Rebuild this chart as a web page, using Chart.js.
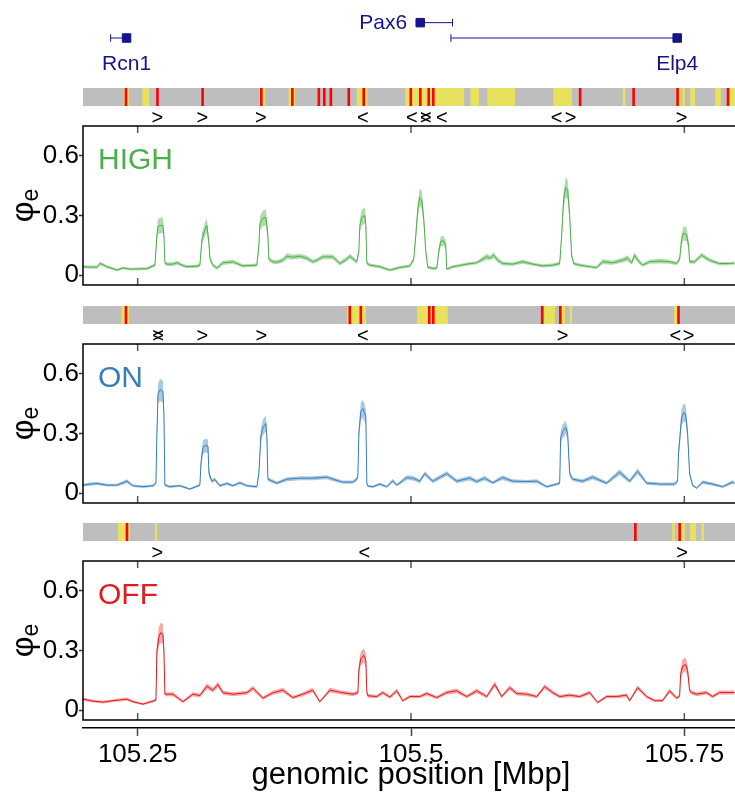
<!DOCTYPE html>
<html>
<head>
<meta charset="utf-8">
<script src="https://cdn.jsdelivr.net/npm/chart.js@4/dist/chart.umd.min.js"></script>
<style>
body { margin: 0; background: #fff; width: 735px; height: 802px; overflow: hidden; position: relative; }
canvas { position: absolute; left: 0; }
</style>
</head>
<body>
<canvas id="genes" width="745" height="84" style="top:0"></canvas>
<canvas id="strip1" width="745" height="50" style="top:80px"></canvas>
<canvas id="high" width="745" height="176" style="top:116px"></canvas>
<canvas id="strip2" width="745" height="50" style="top:298px"></canvas>
<canvas id="on" width="745" height="176" style="top:334px"></canvas>
<canvas id="strip3" width="745" height="50" style="top:515px"></canvas>
<canvas id="off" width="745" height="250" style="top:552px"></canvas>
<script>
// axis ranges and ticks (genomic position in Mbp)
const xMin = 105.2, xMax = 105.8;
const xTicks = [105.25, 105.5, 105.75];
const yTicks = [0, 0.3, 0.6];

// gene annotation
const geneNames = ['Rcn1', 'Pax6', 'Elp4'];
const geneBox = [105.2399, 105.5089, 105.7443];
const geneTail = [105.2253, 105.5385, 105.5370];
const geneRow = [0, 1, 0];

// annotation strips: yellow regions [start, end], red sites, motif arrows
const strip1Yellow = [[105.2375, 105.2416], [105.2546, 105.2603], [105.3618, 105.3663], [105.3883, 105.3938], [105.4507, 105.4598], [105.4952, 105.5482], [105.5546, 105.5619], [105.5702, 105.5948], [105.6305, 105.6469], [105.6940, 105.6958], [105.7427, 105.7463], [105.7484, 105.7502], [105.7557, 105.7594], [105.7785, 105.7831], [105.7913, 105.8000]];
const strip1Red = [105.2393, 105.2681, 105.3094, 105.3631, 105.3915, 105.4157, 105.4207, 105.4267, 105.4431, 105.4568, 105.4998, 105.5085, 105.5162, 105.5204, 105.6547, 105.7036, 105.7438, 105.7900];
const strip1ArrowPos = [105.2681, 105.3092, 105.3627, 105.4559, 105.5007, 105.5135, 105.5281, 105.6332, 105.6460, 105.7475];
const strip1ArrowDir = ['>', '>', '>', '<', '<', '><', '<', '<', '>', '>'];

const strip2Yellow = [[105.2354, 105.2420], [105.4419, 105.4584], [105.5059, 105.5333], [105.6214, 105.6314], [105.6369, 105.6405], [105.6456, 105.6469], [105.7411, 105.7457]];
const strip2Red = [105.2393, 105.4440, 105.4541, 105.5167, 105.5204, 105.6200, 105.6366, 105.7447];
const strip2ArrowPos = [105.2686, 105.3092, 105.3632, 105.4559, 105.6387, 105.7417, 105.7539];
const strip2ArrowDir = ['><', '>', '>', '<', '>', '<', '>'];

const strip3Yellow = [[105.2324, 105.2424], [105.2661, 105.2676], [105.7393, 105.7411], [105.7441, 105.7502], [105.7556, 105.7603], [105.7658, 105.7676]];
const strip3Red = [105.2402, 105.7052, 105.7457];
const strip3ArrowPos = [105.2680, 105.4573, 105.7480];
const strip3ArrowDir = ['>', '<', '>'];

// HIGH profile
const highPos = [105.2000, 105.2064, 105.2128, 105.2155, 105.2192, 105.2219, 105.2274, 105.2311, 105.2366, 105.2430,
  105.2521, 105.2585, 105.2640, 105.2658, 105.2676, 105.2686, 105.2713, 105.2731, 105.2740, 105.2749,
  105.2768, 105.2823, 105.2859, 105.2914, 105.2951, 105.3042, 105.3069, 105.3088, 105.3115, 105.3133,
  105.3152, 105.3161, 105.3188, 105.3225, 105.3280, 105.3344, 105.3371, 105.3462, 105.3526, 105.3590,
  105.3609, 105.3618, 105.3645, 105.3673, 105.3691, 105.3700, 105.3737, 105.3773, 105.3828, 105.3865,
  105.3919, 105.3983, 105.4047, 105.4102, 105.4139, 105.4194, 105.4285, 105.4349, 105.4413, 105.4440,
  105.4504, 105.4523, 105.4532, 105.4550, 105.4578, 105.4587, 105.4596, 105.4623, 105.4715, 105.4806,
  105.4897, 105.4943, 105.4989, 105.5025, 105.5044, 105.5062, 105.5080, 105.5098, 105.5117, 105.5135,
  105.5153, 105.5199, 105.5236, 105.5254, 105.5272, 105.5300, 105.5318, 105.5327, 105.5382, 105.5446,
  105.5510, 105.5601, 105.5693, 105.5720, 105.5757, 105.5793, 105.5839, 105.5930, 105.6022, 105.6113,
  105.6204, 105.6296, 105.6360, 105.6378, 105.6396, 105.6415, 105.6433, 105.6451, 105.6469, 105.6488,
  105.6543, 105.6634, 105.6698, 105.6753, 105.6844, 105.6936, 105.6981, 105.7018, 105.7045, 105.7082,
  105.7118, 105.7182, 105.7274, 105.7365, 105.7429, 105.7457, 105.7475, 105.7493, 105.7521, 105.7539,
  105.7548, 105.7594, 105.7658, 105.7731, 105.7822, 105.7914, 105.7959];
const highVal = [0.042, 0.040, 0.040, 0.058, 0.050, 0.042, 0.032, 0.025, 0.036, 0.030,
  0.031, 0.032, 0.046, 0.050, 0.200, 0.245, 0.250, 0.250, 0.200, 0.060,
  0.055, 0.055, 0.062, 0.048, 0.042, 0.045, 0.050, 0.180, 0.230, 0.250,
  0.160, 0.083, 0.050, 0.035, 0.062, 0.065, 0.067, 0.046, 0.048, 0.050,
  0.150, 0.260, 0.285, 0.290, 0.200, 0.080, 0.067, 0.065, 0.075, 0.095,
  0.090, 0.095, 0.085, 0.067, 0.075, 0.092, 0.092, 0.058, 0.080, 0.095,
  0.067, 0.120, 0.250, 0.290, 0.300, 0.250, 0.060, 0.050, 0.042, 0.025,
  0.038, 0.042, 0.046, 0.080, 0.200, 0.330, 0.390, 0.380, 0.280, 0.120,
  0.040, 0.033, 0.035, 0.120, 0.170, 0.172, 0.150, 0.030, 0.042, 0.048,
  0.055, 0.062, 0.092, 0.085, 0.100, 0.075, 0.058, 0.055, 0.067, 0.055,
  0.046, 0.050, 0.058, 0.200, 0.380, 0.440, 0.430, 0.300, 0.100, 0.058,
  0.050, 0.042, 0.038, 0.067, 0.062, 0.075, 0.085, 0.062, 0.100, 0.070,
  0.050, 0.067, 0.070, 0.067, 0.058, 0.080, 0.180, 0.210, 0.205, 0.150,
  0.067, 0.067, 0.100, 0.075, 0.058, 0.058, 0.060];
const highErr = [0.008, 0.008, 0.008, 0.010, 0.008, 0.008, 0.007, 0.007, 0.007, 0.007,
  0.007, 0.007, 0.008, 0.010, 0.030, 0.040, 0.040, 0.040, 0.030, 0.010,
  0.010, 0.010, 0.010, 0.008, 0.008, 0.008, 0.010, 0.030, 0.035, 0.035,
  0.030, 0.015, 0.010, 0.008, 0.010, 0.010, 0.010, 0.008, 0.008, 0.008,
  0.025, 0.035, 0.040, 0.040, 0.030, 0.012, 0.010, 0.010, 0.012, 0.015,
  0.012, 0.012, 0.012, 0.010, 0.010, 0.012, 0.012, 0.010, 0.012, 0.012,
  0.010, 0.020, 0.035, 0.040, 0.040, 0.035, 0.010, 0.008, 0.008, 0.007,
  0.007, 0.008, 0.008, 0.012, 0.030, 0.040, 0.045, 0.045, 0.035, 0.020,
  0.008, 0.007, 0.007, 0.020, 0.025, 0.025, 0.020, 0.007, 0.008, 0.008,
  0.008, 0.008, 0.015, 0.012, 0.015, 0.012, 0.010, 0.008, 0.010, 0.008,
  0.008, 0.008, 0.010, 0.030, 0.045, 0.050, 0.050, 0.035, 0.015, 0.008,
  0.008, 0.007, 0.007, 0.012, 0.010, 0.012, 0.015, 0.010, 0.015, 0.012,
  0.008, 0.010, 0.012, 0.010, 0.008, 0.012, 0.030, 0.035, 0.035, 0.025,
  0.010, 0.010, 0.012, 0.010, 0.008, 0.008, 0.008];

// ON profile
const onPos = [105.2000, 105.2064, 105.2128, 105.2219, 105.2311, 105.2402, 105.2457, 105.2548, 105.2640, 105.2667,
  105.2676, 105.2686, 105.2704, 105.2731, 105.2740, 105.2749, 105.2795, 105.2887, 105.2978, 105.3069,
  105.3079, 105.3097, 105.3124, 105.3143, 105.3152, 105.3179, 105.3206, 105.3252, 105.3316, 105.3371,
  105.3435, 105.3499, 105.3590, 105.3609, 105.3627, 105.3645, 105.3673, 105.3682, 105.3691, 105.3773,
  105.3865, 105.3983, 105.4102, 105.4230, 105.4285, 105.4376, 105.4468, 105.4504, 105.4514, 105.4523,
  105.4541, 105.4559, 105.4578, 105.4587, 105.4596, 105.4605, 105.4651, 105.4715, 105.4779, 105.4833,
  105.4870, 105.4961, 105.5016, 105.5080, 105.5126, 105.5199, 105.5327, 105.5418, 105.5537, 105.5601,
  105.5674, 105.5747, 105.5839, 105.5930, 105.6058, 105.6150, 105.6241, 105.6332, 105.6360, 105.6369,
  105.6387, 105.6415, 105.6433, 105.6451, 105.6479, 105.6570, 105.6661, 105.6789, 105.6908, 105.7000,
  105.7073, 105.7155, 105.7274, 105.7411, 105.7438, 105.7447, 105.7475, 105.7493, 105.7511, 105.7530,
  105.7548, 105.7575, 105.7612, 105.7667, 105.7758, 105.7850, 105.7941, 105.7959];
const onVal = [0.040, 0.045, 0.048, 0.040, 0.040, 0.060, 0.037, 0.032, 0.037, 0.050,
  0.300, 0.500, 0.520, 0.510, 0.400, 0.040, 0.032, 0.037, 0.020, 0.040,
  0.150, 0.230, 0.240, 0.235, 0.100, 0.060, 0.068, 0.037, 0.048, 0.037,
  0.052, 0.037, 0.032, 0.100, 0.290, 0.330, 0.350, 0.280, 0.070, 0.050,
  0.070, 0.075, 0.075, 0.080, 0.070, 0.055, 0.055, 0.070, 0.085, 0.300,
  0.410, 0.425, 0.400, 0.380, 0.050, 0.035, 0.032, 0.045, 0.032, 0.062,
  0.040, 0.078, 0.075, 0.060, 0.098, 0.060, 0.098, 0.060, 0.075, 0.058,
  0.075, 0.052, 0.078, 0.060, 0.058, 0.060, 0.032, 0.045, 0.050, 0.280,
  0.310, 0.330, 0.300, 0.098, 0.070, 0.060, 0.080, 0.050, 0.105, 0.060,
  0.110, 0.050, 0.045, 0.045, 0.060, 0.200, 0.380, 0.405, 0.400, 0.300,
  0.100, 0.040, 0.025, 0.055, 0.045, 0.032, 0.055, 0.050];
const onErr = [0.007, 0.008, 0.008, 0.007, 0.007, 0.010, 0.006, 0.006, 0.006, 0.008,
  0.040, 0.050, 0.055, 0.055, 0.045, 0.007, 0.006, 0.006, 0.005, 0.007,
  0.030, 0.035, 0.035, 0.035, 0.020, 0.010, 0.010, 0.006, 0.008, 0.006,
  0.008, 0.006, 0.006, 0.020, 0.035, 0.040, 0.040, 0.035, 0.010, 0.008,
  0.010, 0.010, 0.010, 0.010, 0.010, 0.008, 0.008, 0.010, 0.012, 0.035,
  0.045, 0.045, 0.045, 0.040, 0.008, 0.006, 0.006, 0.007, 0.006, 0.010,
  0.007, 0.012, 0.012, 0.010, 0.012, 0.010, 0.012, 0.010, 0.012, 0.010,
  0.012, 0.008, 0.012, 0.010, 0.008, 0.010, 0.006, 0.007, 0.008, 0.030,
  0.035, 0.035, 0.030, 0.015, 0.010, 0.010, 0.012, 0.008, 0.015, 0.010,
  0.015, 0.008, 0.008, 0.008, 0.010, 0.030, 0.045, 0.045, 0.045, 0.035,
  0.015, 0.007, 0.005, 0.010, 0.008, 0.006, 0.010, 0.008];

// OFF profile
const offPos = [105.2000, 105.2091, 105.2183, 105.2274, 105.2402, 105.2457, 105.2548, 105.2640, 105.2667, 105.2676,
  105.2695, 105.2713, 105.2731, 105.2740, 105.2749, 105.2823, 105.2914, 105.3005, 105.3069, 105.3133,
  105.3188, 105.3234, 105.3280, 105.3371, 105.3499, 105.3554, 105.3645, 105.3737, 105.3828, 105.3919,
  105.4011, 105.4102, 105.4166, 105.4258, 105.4349, 105.4468, 105.4514, 105.4523, 105.4541, 105.4569,
  105.4587, 105.4596, 105.4605, 105.4687, 105.4742, 105.4806, 105.4870, 105.4925, 105.4989, 105.5080,
  105.5144, 105.5236, 105.5327, 105.5418, 105.5510, 105.5601, 105.5693, 105.5766, 105.5830, 105.5903,
  105.5967, 105.6058, 105.6150, 105.6223, 105.6296, 105.6360, 105.6451, 105.6543, 105.6634, 105.6707,
  105.6789, 105.6881, 105.6972, 105.7000, 105.7073, 105.7155, 105.7228, 105.7301, 105.7365, 105.7429,
  105.7457, 105.7466, 105.7484, 105.7511, 105.7530, 105.7548, 105.7566, 105.7612, 105.7703, 105.7758,
  105.7822, 105.7959];
const offVal = [0.055, 0.045, 0.040, 0.047, 0.055, 0.042, 0.030, 0.045, 0.050, 0.300,
  0.370, 0.390, 0.380, 0.300, 0.080, 0.080, 0.042, 0.080, 0.073, 0.120,
  0.100, 0.128, 0.087, 0.080, 0.087, 0.110, 0.060, 0.087, 0.100, 0.063,
  0.080, 0.100, 0.042, 0.100, 0.090, 0.080, 0.087, 0.200, 0.260, 0.275,
  0.250, 0.090, 0.072, 0.068, 0.088, 0.065, 0.097, 0.047, 0.068, 0.068,
  0.083, 0.063, 0.088, 0.097, 0.068, 0.097, 0.068, 0.130, 0.068, 0.113,
  0.083, 0.080, 0.068, 0.118, 0.088, 0.068, 0.075, 0.068, 0.088, 0.038,
  0.068, 0.068, 0.075, 0.047, 0.113, 0.068, 0.047, 0.047, 0.097, 0.060,
  0.070, 0.180, 0.220, 0.230, 0.200, 0.100, 0.088, 0.080, 0.088, 0.068,
  0.088, 0.088];
const offErr = [0.008, 0.007, 0.007, 0.007, 0.008, 0.007, 0.006, 0.007, 0.008, 0.040,
  0.050, 0.050, 0.050, 0.040, 0.010, 0.010, 0.007, 0.010, 0.010, 0.015,
  0.012, 0.015, 0.010, 0.010, 0.010, 0.012, 0.008, 0.010, 0.012, 0.008,
  0.010, 0.012, 0.006, 0.012, 0.010, 0.010, 0.010, 0.030, 0.035, 0.035,
  0.035, 0.012, 0.010, 0.008, 0.010, 0.008, 0.012, 0.007, 0.008, 0.008,
  0.010, 0.008, 0.010, 0.012, 0.008, 0.012, 0.008, 0.015, 0.008, 0.012,
  0.010, 0.010, 0.008, 0.012, 0.010, 0.008, 0.010, 0.008, 0.010, 0.006,
  0.008, 0.008, 0.010, 0.007, 0.012, 0.008, 0.007, 0.007, 0.012, 0.008,
  0.008, 0.030, 0.035, 0.035, 0.030, 0.012, 0.010, 0.010, 0.010, 0.008,
  0.010, 0.010];

const sansFont = "'Liberation Sans', Arial, sans-serif";
const navy = '#14148c';

Chart.defaults.font.family = sansFont;
Chart.defaults.plugins.legend.display = false;
Chart.defaults.plugins.tooltip.enabled = false;

// gene names next to the gene models
const geneLabelPlugin = {
    id: 'geneLabels',
    afterDraw(chart) {
        const ctx = chart.ctx;
        ctx.save();
        ctx.font = '21px ' + sansFont;
        ctx.fillStyle = navy;
        ctx.textBaseline = 'middle';
        geneNames.forEach((name, i) => {
            const x = chart.scales.x.getPixelForValue(geneBox[i]);
            const y = chart.scales.y.getPixelForValue(geneRow[i]);
            if (geneRow[i] === 0) {
                ctx.textAlign = 'center';
                ctx.fillText(name, x, y + 26);
            } else {
                ctx.textAlign = 'right';
                ctx.fillText(name, x - 13, y + 1);
            }
        });
        ctx.restore();
    }
};

new Chart(document.getElementById('genes'), {
    type: 'line',
    data: {
        datasets: geneNames.map((name, i) => ({
            label: name,
            data: [{ x: geneBox[i], y: geneRow[i] }, { x: geneTail[i], y: geneRow[i] }],
            borderColor: navy,
            borderWidth: 1,
            pointStyle: ['rect', 'line'],
            pointRadius: [6, 3.8],
            pointRotation: [0, 90],
            pointBackgroundColor: navy,
            pointBorderColor: navy,
            pointBorderWidth: 1
        }))
    },
    options: {
        responsive: false,
        animation: false,
        layout: { padding: { left: 83, right: 6, top: 0, bottom: 0 } },
        scales: {
            x: { type: 'linear', min: xMin, max: xMax, display: false },
            y: { type: 'linear', min: -2.54, max: 2.02, display: false }
        }
    },
    plugins: [geneLabelPlugin]
});

// motif orientation arrows under each strip
const arrowPlugin = {
    id: 'arrows',
    afterDraw(chart, args, opts) {
        const ctx = chart.ctx;
        const y = chart.chartArea.bottom + 12;
        ctx.save();
        ctx.font = '20px ' + sansFont;
        ctx.fillStyle = '#000';
        ctx.textAlign = 'center';
        ctx.textBaseline = 'middle';
        opts.pos.forEach((p, i) => {
            const x = chart.scales.x.getPixelForValue(p);
            for (const ch of opts.dir[i]) ctx.fillText(ch, x, y);
        });
        ctx.restore();
    }
};

const redHalf = 0.0009;

function makeStrip(id, yellow, red, arrowPos, arrowDir) {
    new Chart(document.getElementById(id), {
        type: 'bar',
        data: {
            labels: ['track'],
            datasets: [
                { data: red.map(p => ({ x: [p - redHalf, p + redHalf], y: 'track' })), backgroundColor: '#ff0000' },
                { data: yellow.map(s => ({ x: s, y: 'track' })), backgroundColor: '#e8e15e' },
                { data: [{ x: [xMin, xMax], y: 'track' }], backgroundColor: '#bebebe' }
            ]
        },
        options: {
            indexAxis: 'y',
            responsive: false,
            animation: false,
            layout: { padding: { left: 83, right: 6, top: 8, bottom: 24 } },
            datasets: { bar: { grouped: false, barPercentage: 1, categoryPercentage: 1, borderWidth: 0 } },
            plugins: { arrows: { pos: arrowPos, dir: arrowDir } },
            scales: {
                x: { type: 'linear', min: xMin, max: xMax, display: false },
                y: { display: false }
            }
        },
        plugins: [arrowPlugin]
    });
}

makeStrip('strip1', strip1Yellow, strip1Red, strip1ArrowPos, strip1ArrowDir);
makeStrip('strip2', strip2Yellow, strip2Red, strip2ArrowPos, strip2ArrowDir);
makeStrip('strip3', strip3Yellow, strip3Red, strip3ArrowPos, strip3ArrowDir);

// frame with inward ticks, panel name and the y title
const panelPlugin = {
    id: 'panel',
    afterDraw(chart, args, opts) {
        const { ctx, chartArea: a, scales } = chart;
        ctx.save();
        ctx.strokeStyle = '#555';
        ctx.lineWidth = 1.5;
        ctx.beginPath();
        xTicks.forEach(v => {
            const px = scales.x.getPixelForValue(v);
            ctx.moveTo(px, a.top);
            ctx.lineTo(px, a.top + 7);
            ctx.moveTo(px, a.bottom);
            ctx.lineTo(px, a.bottom - 7);
        });
        yTicks.forEach(v => {
            const py = scales.y.getPixelForValue(v);
            ctx.moveTo(a.right, py);
            ctx.lineTo(a.right - 4, py);
        });
        ctx.stroke();

        ctx.strokeStyle = '#000';
        ctx.strokeRect(a.left, a.top, a.right - a.left, a.bottom - a.top);

        ctx.fillStyle = opts.color;
        ctx.font = '30px ' + sansFont;
        ctx.textAlign = 'left';
        ctx.textBaseline = 'alphabetic';
        ctx.fillText(opts.label, a.left + 15, a.top + 43);

        // phi with subscript e, rotated
        ctx.fillStyle = '#000';
        ctx.translate(33, (a.top + a.bottom) / 2);
        ctx.rotate(-Math.PI / 2);
        ctx.font = '32px ' + sansFont;
        const wPhi = ctx.measureText('φ').width;
        ctx.font = '23px ' + sansFont;
        const wE = ctx.measureText('e').width;
        const start = -(wPhi + wE) / 2;
        ctx.font = '32px ' + sansFont;
        ctx.fillText('φ', start, 0);
        ctx.font = '23px ' + sansFont;
        ctx.fillText('e', start + wPhi, 5);
        ctx.restore();
    }
};

function makePanel(id, label, pos, val, err, lineColor, bandColor, last) {
    const lower = pos.map((x, i) => ({ x, y: val[i] - err[i] }));
    const upper = pos.map((x, i) => ({ x, y: val[i] + err[i] }));
    const mean = pos.map((x, i) => ({ x, y: val[i] }));

    const scales = {
        x: { type: 'linear', min: xMin, max: xMax, display: false },
        y: {
            type: 'linear',
            min: -0.05,
            max: 0.75,
            position: 'left',
            afterBuildTicks: s => { s.ticks = yTicks.map(v => ({ value: v })); },
            afterFit: s => { s.width = 83; s.paddingTop = 0; s.paddingBottom = 0; },
            border: { display: false },
            grid: { drawOnChartArea: false, drawTicks: true, tickLength: 4, tickColor: '#333', tickWidth: 1.5 },
            ticks: { font: { size: 26 }, color: '#000', padding: 0, callback: v => String(v) }
        }
    };

    if (last) {
        // thin spacer so the labelled axis line sits a little below the frame
        scales.xs = {
            axis: 'x',
            type: 'linear', min: xMin, max: xMax, position: 'bottom', weight: 0,
            grid: { display: false }, ticks: { display: false }, border: { display: false },
            afterFit: s => { s.height = 8; }
        };
        scales.x = {
            type: 'linear', min: xMin, max: xMax, position: 'bottom', weight: 1,
            afterBuildTicks: s => { s.ticks = xTicks.map(v => ({ value: v })); },
            afterFit: s => { s.height = 74; s.paddingLeft = 0; s.paddingRight = 0; },
            border: { display: true, color: '#000', width: 1.5 },
            grid: { drawOnChartArea: false, drawTicks: true, tickLength: 8, tickColor: '#444', tickWidth: 1.5 },
            ticks: { font: { size: 26 }, color: '#000', padding: 3, maxRotation: 0, callback: v => String(v) },
            title: { display: true, text: 'genomic position [Mbp]', font: { size: 31 }, color: '#000', padding: { top: 0, bottom: 8 } }
        };
    }

    new Chart(document.getElementById(id), {
        type: 'line',
        data: {
            datasets: [
                { data: lower, borderWidth: 0, borderColor: 'transparent', pointRadius: 0, fill: false, xAxisID: 'x' },
                { data: upper, borderWidth: 0, borderColor: 'transparent', pointRadius: 0, fill: '-1', backgroundColor: bandColor, xAxisID: 'x' },
                { data: mean, borderWidth: 1, borderColor: lineColor, pointRadius: 0, fill: false, xAxisID: 'x' }
            ]
        },
        options: {
            responsive: false,
            animation: false,
            layout: { padding: { left: 0, right: 6, top: last ? 9 : 10, bottom: last ? 0 : 7 } },
            plugins: { panel: { label: label, color: lineColor } },
            scales: scales
        },
        plugins: [panelPlugin]
    });
}

makePanel('high', 'HIGH', highPos, highVal, highErr, '#4daf4a', 'rgba(77,175,74,0.45)', false);
makePanel('on', 'ON', onPos, onVal, onErr, '#377eb8', 'rgba(55,126,184,0.42)', false);
makePanel('off', 'OFF', offPos, offVal, offErr, '#e41a1c', 'rgba(228,26,28,0.38)', true);
</script>
</body>
</html>
